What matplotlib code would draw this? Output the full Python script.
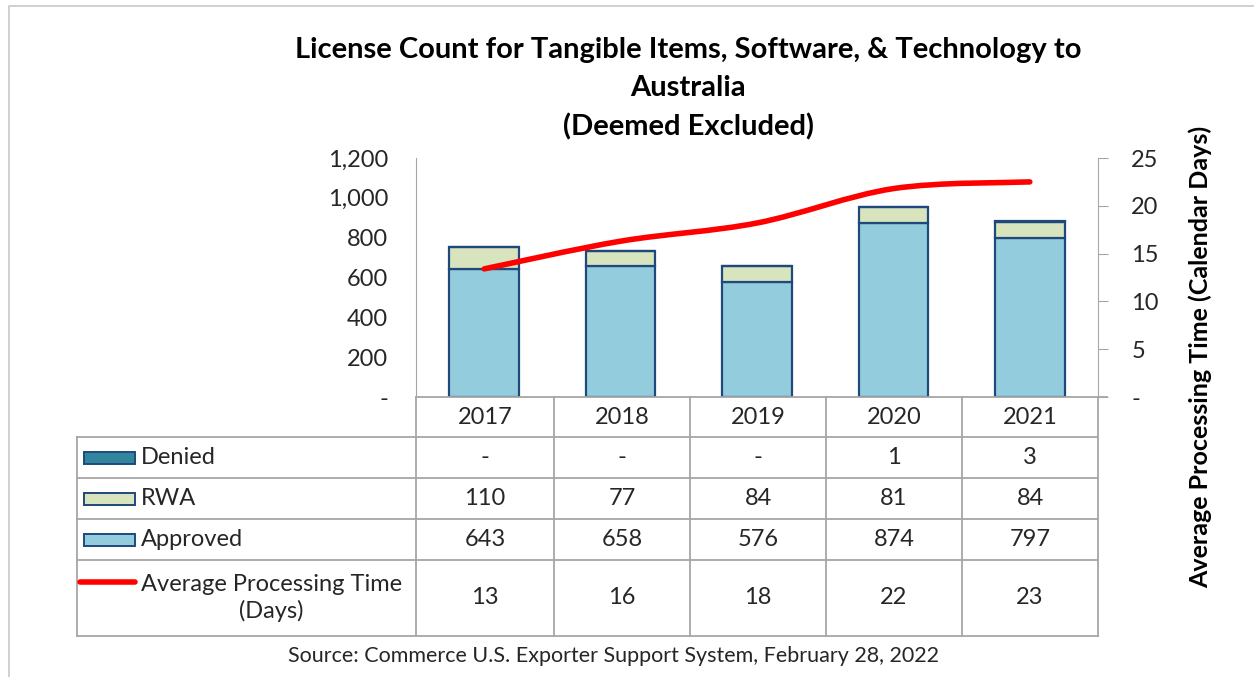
import matplotlib
matplotlib.use("Agg")
import matplotlib.pyplot as plt
from matplotlib.patches import Rectangle, PathPatch
from matplotlib.path import Path
from matplotlib.lines import Line2D
import numpy as np

plt.rcParams['font.family'] = ['Lato', 'DejaVu Sans']

years = ['2017', '2018', '2019', '2020', '2021']
approved = [643, 658, 576, 874, 797]
rwa = [110, 77, 84, 81, 84]
denied = [0, 0, 0, 1, 3]
avg_days = [13.4, 16.3, 18.2, 21.8, 22.5]
avg_days_label = ['13', '16', '18', '22', '23']
denied_label = ['-', '-', '-', '1', '3']
left_ticks = [0, 200, 400, 600, 800, 1000, 1200]
left_tick_labels = ['-', '200', '400', '600', '800', '1,000', '1,200']
right_ticks = [0, 5, 10, 15, 20, 25]
right_tick_labels = ['-', '5', '10', '15', '20', '25']

W, H = 1254, 677
fig = plt.figure(figsize=(W / 100, H / 100), dpi=100)

def fx(x):
    return x / W

def fy(y):
    return 1 - y / H

C_APP = '#93CDDD'
C_RWA = '#D7E4BD'
C_DEN = '#31859C'
C_EDGE = '#1F497D'
C_GRID = '#A6A6A6'
C_TXT = '#262626'
C_RED = '#FF0000'
FS = 17

# plot area
L, R, T, B = 416, 1098, 158, 397
ax = fig.add_axes([fx(L), fy(B), fx(R - L), (B - T) / H])
x = np.arange(len(years))
bw = 0.51
ax.bar(x, approved, bw, color=C_APP, edgecolor=C_EDGE, linewidth=1.6, zorder=2)
ax.bar(x, rwa, bw, bottom=approved, color=C_RWA, edgecolor=C_EDGE, linewidth=1.6, zorder=2)
bot2 = [a + r for a, r in zip(approved, rwa)]
ax.bar(x, denied, bw, bottom=bot2, color=C_DEN, edgecolor=C_EDGE, linewidth=1.6, zorder=2)
ax.set_xlim(-0.5, len(years) - 0.5)
ax.set_ylim(0, 1200)
ax.set_yticks(left_ticks)
ax.set_yticklabels(left_tick_labels)
ax.set_xticks([])
for s in ['top', 'right', 'bottom']:
    ax.spines[s].set_visible(False)
ax.spines['left'].set_color(C_GRID)
ax.tick_params(axis='y', length=0, pad=20, labelsize=FS, labelcolor=C_TXT)
ax.patch.set_alpha(0)

ax2 = ax.twinx()
ax2.set_ylim(0, 25)
ax2.set_yticks(right_ticks)
ax2.set_yticklabels(right_tick_labels)
for s in ['top', 'left', 'bottom']:
    ax2.spines[s].set_visible(False)
ax2.spines['right'].set_color(C_GRID)
ax2.tick_params(axis='y', length=7, color=C_GRID, pad=17, labelsize=FS, labelcolor=C_TXT)

fig.text(fx(1200), fy(357), 'Average Processing Time (Calendar Days)', rotation=90,
         ha='center', va='center', fontsize=18, fontweight='bold', color='black')

# smoothed line (Catmull-Rom style bezier through data points)
pts = list(zip(x.astype(float), avg_days))
verts = [pts[0]]
codes = [Path.MOVETO]
n = len(pts)
for i in range(n - 1):
    p0 = np.array(pts[max(i - 1, 0)])
    p1 = np.array(pts[i])
    p2 = np.array(pts[i + 1])
    p3 = np.array(pts[min(i + 2, n - 1)])
    c1 = p1 + (p2 - p0) / 6
    c2 = p2 - (p3 - p1) / 6
    verts += [tuple(c1), tuple(c2), tuple(p2)]
    codes += [Path.CURVE4] * 3
ax2.add_patch(PathPatch(Path(verts, codes), facecolor='none', edgecolor=C_RED,
                        linewidth=4.0, capstyle='round', zorder=3))

# title
for ty, tt in zip([50, 88, 127], ['License Count for Tangible Items, Software, & Technology to',
                                  'Australia', '(Deemed Excluded)']):
    fig.text(fx(688), fy(ty), tt, ha='center', va='center', fontsize=21,
             fontweight='bold', color='black')

# table lines
def hline(y, x0, x1):
    fig.add_artist(Line2D([fx(x0), fx(x1)], [fy(y), fy(y)], color=C_GRID, linewidth=1.3))

def vline(xp, y0, y1):
    fig.add_artist(Line2D([fx(xp), fx(xp)], [fy(y0), fy(y1)], color=C_GRID, linewidth=1.3))

col_edges = [416, 554, 690, 826, 962, 1098]
rows = [437, 478, 519, 560, 636]
hline(397, 416, 1107)
for yy in rows:
    hline(yy, 77, 1098)
vline(77, 437, 636)
vline(416, 397, 636)
for xe in col_edges[1:-1]:
    vline(xe, 397, 636)
vline(1098, 397, 636)

col_centers = [(col_edges[i] + col_edges[i + 1]) / 2 for i in range(len(years))]
for cx, yr in zip(col_centers, years):
    fig.text(fx(cx), fy(417), yr, ha='center', va='center', fontsize=FS, color=C_TXT)

row_centers = [(rows[i] + rows[i + 1]) / 2 for i in range(4)]
table_vals = [denied_label, [str(v) for v in rwa], [str(v) for v in approved], avg_days_label]
for rc, vals in zip(row_centers, table_vals):
    for cx, v in zip(col_centers, vals):
        fig.text(fx(cx), fy(rc), v, ha='center', va='center', fontsize=FS, color=C_TXT)

# legend keys
for rc, col, lab in zip(row_centers[:3], [C_DEN, C_RWA, C_APP], ['Denied', 'RWA', 'Approved']):
    fig.add_artist(Rectangle((fx(84), fy(rc + 6)), fx(51), 12 / H, facecolor=col,
                             edgecolor=C_EDGE, linewidth=1.4))
    fig.text(fx(141), fy(rc), lab, ha='left', va='center', fontsize=FS, color=C_TXT)
fig.add_artist(Line2D([fx(80), fx(135)], [fy(582), fy(582)], color=C_RED, linewidth=4.0,
                      solid_capstyle='round'))
fig.text(fx(141), fy(598), 'Average Processing Time\n(Days)', ha='left', va='center',
         multialignment='center', fontsize=FS, color=C_TXT, linespacing=1.3)

# source
fig.text(fx(614), fy(656), 'Source: Commerce U.S. Exporter Support System, February 28, 2022',
         ha='center', va='center', fontsize=15.5, color=C_TXT)

# outer border
fig.add_artist(Line2D([fx(9), fx(9), fx(1254)], [fy(677), fy(6), fy(6)], color='#C8C8C8',
                      linewidth=1.2))

fig.savefig('out.png', dpi=100)
